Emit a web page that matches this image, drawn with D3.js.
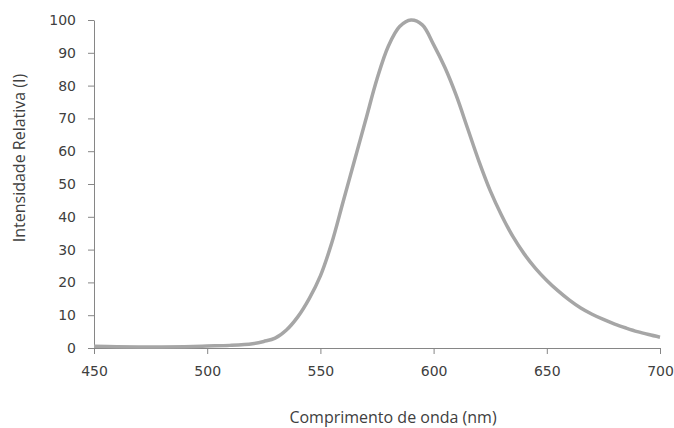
<!DOCTYPE html>
<html>
<head>
<meta charset="utf-8">
<script src="https://cdnjs.cloudflare.com/ajax/libs/d3/7.8.5/d3.min.js"></script>
<style>
  body { margin: 0; background: #fff; }
  svg { display: block; }
  .axis text { font-family: "DejaVu Sans", sans-serif; font-size: 14px; fill: #404040; }
  .axis path, .axis line { stroke: #868686; }
  .label { font-family: "Open Sans", sans-serif; font-size: 16px; fill: #404040; }
</style>
</head>
<body>
<svg id="chart"></svg>
<script>
// emission spectrum
var wavelength = [450, 460, 470, 480, 490, 500, 510, 520, 525, 530, 535, 540, 545, 550, 555, 560, 565, 570, 575, 580, 585, 590, 595, 600, 605, 610, 615, 620, 625, 630, 635, 640, 645, 650, 655, 660, 665, 670, 675, 680, 685, 690, 695, 700];
var intensity = [0.5, 0.4, 0.3, 0.3, 0.4, 0.6, 0.8, 1.3, 2, 3, 5.5, 9.5, 15, 22, 32, 44.5, 57, 69.5, 82, 92, 98, 100, 98.5, 92.5, 85.5, 77, 67, 57, 48, 40.5, 34, 28.7, 24.3, 20.6, 17.4, 14.6, 12.2, 10.3, 8.7, 7.3, 6.1, 5, 4.1, 3.3];

var xTicks = [450, 500, 550, 600, 650, 700];
var yTicks = [0, 10, 20, 30, 40, 50, 60, 70, 80, 90, 100];

var svgwidth = 674, svgheight = 428;

var margins =
{
  top:20,
  bottom:80,
  left:94,
  right:14
};

var width = svgwidth - margins.left - margins.right;
var height = svgheight - margins.top - margins.bottom;

var svg = d3.select("#chart").attr('width', svgwidth).attr('height', svgheight);

var xScale = d3.scaleLinear()
              .domain([450, 700])
              .range([0, width]);

var yScale = d3.scaleLinear()
              .domain([0, 100])
              .range([height, 0]);

var plotLand = svg.append("g")
                  .attr('transform', "translate(" + margins.left + "," + margins.top + ")");

var xAxis = d3.axisBottom(xScale)
              .tickValues(xTicks)
              .tickSize(6)
              .tickPadding(12)
              .tickSizeOuter(0);

var yAxis = d3.axisLeft(yScale)
              .tickValues(yTicks)
              .tickSize(6)
              .tickPadding(12)
              .tickSizeOuter(0);

plotLand.append("g")
        .attr("class", "axis")
        .attr("transform", "translate(0," + height + ")")
        .call(xAxis);

plotLand.append("g")
        .attr("class", "axis")
        .call(yAxis);

var points = wavelength.map(function(w, i){ return [w, intensity[i]]; });

var line = d3.line()
             .x(function(d){ return xScale(d[0]); })
             .y(function(d){ return yScale(d[1]); })
             .curve(d3.curveCatmullRom.alpha(0.5));

plotLand.append("path")
        .datum(points)
        .attr("d", line)
        .attr("fill", "none")
        .attr("stroke", "#a6a6a6")
        .attr("stroke-width", 3.5)
        .attr("stroke-linejoin", "round");

svg.append("text")
   .attr("class", "label")
   .attr("x", 393)
   .attr("y", 423)
   .attr("text-anchor", "middle")
   .text("Comprimento de onda (nm)");

svg.append("text")
   .attr("class", "label")
   .attr("transform", "translate(25,158) rotate(-90)")
   .attr("text-anchor", "middle")
   .text("Intensidade Relativa (I)");
</script>
</body>
</html>
